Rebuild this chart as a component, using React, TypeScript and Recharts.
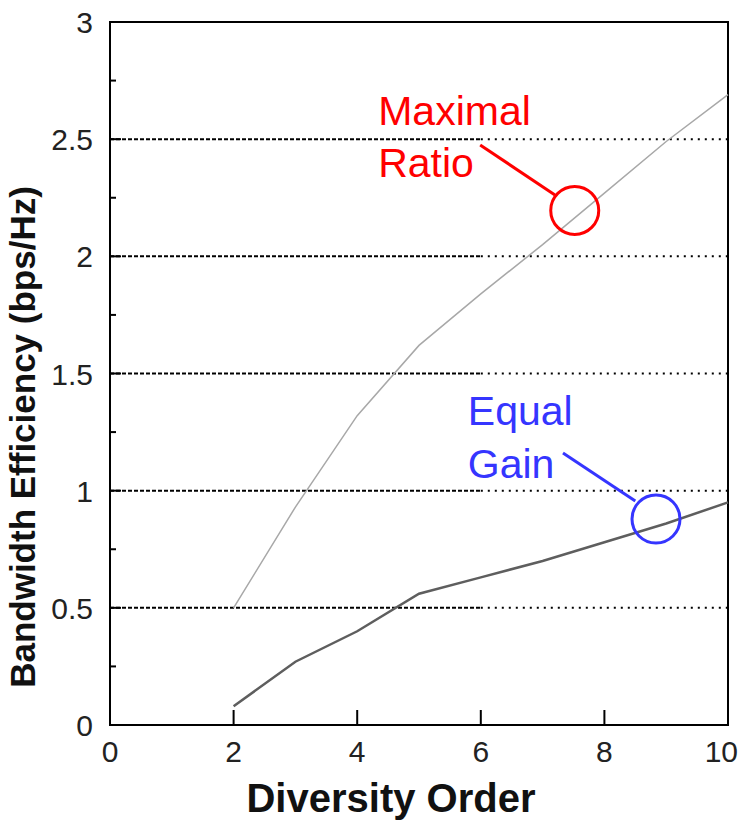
import React from "react";
import {
  LineChart,
  Line,
  XAxis,
  YAxis,
  ReferenceLine,
  ReferenceDot,
  ReferenceArea,
} from "recharts";

// bandwidth efficiency vs. diversity order for two combining schemes
const diversityOrder = [2, 3, 4, 5, 6, 7, 8, 9, 10];
const maximalRatio = [0.5, 0.93, 1.32, 1.62, 1.84, 2.05, 2.27, 2.49, 2.69];
const equalGain = [0.08, 0.27, 0.4, 0.56, 0.63, 0.7, 0.78, 0.86, 0.95];

const xTicks = [0, 2, 4, 6, 8, 10];
const yTicks = [0, 0.25, 0.5, 0.75, 1, 1.25, 1.5, 1.75, 2, 2.25, 2.5, 2.75, 3];
const gridLevels = [0.5, 1, 1.5, 2, 2.5];

const rows = diversityOrder.map((order, i) => ({
  order,
  maximal: maximalRatio[i],
  equal: equalGain[i],
}));

const FONT = "'Liberation Sans', Arial, Helvetica, sans-serif";
const RED = "#ff0000";
const BLUE = "#3535ff";

function XTick({ x, y, payload }: any) {
  const v = payload.value;
  const inner = v !== 0 && v !== 10;
  // last label is pulled in so it stays on the page
  const last = v === 10;
  return (
    <g>
      {inner && (
        <line x1={x} x2={x} y1={y} y2={y - 15} stroke="#000" strokeWidth={2} />
      )}
      <text
        x={last ? x + 10 : x}
        y={y + 37}
        textAnchor={last ? "end" : "middle"}
        fontFamily={FONT}
        fontSize={30}
        fill="#222"
      >
        {v}
      </text>
    </g>
  );
}

function YTick({ x, y, payload }: any) {
  const v = payload.value;
  const major = Math.abs(v * 2 - Math.round(v * 2)) < 1e-6;
  const edge = v === 0 || v === 3;
  return (
    <g>
      {!edge && (
        <line
          x1={x}
          x2={x + (major ? 11 : 6)}
          y1={y}
          y2={y}
          stroke="#000"
          strokeWidth={2}
        />
      )}
      {major && (
        <text
          x={x - 17}
          y={y + 11}
          textAnchor="end"
          fontFamily={FONT}
          fontSize={30}
          fill="#222"
        >
          {v}
        </text>
      )}
    </g>
  );
}

function textShape(label: string, color: string) {
  return (p: any) => (
    <text x={p.cx} y={p.cy} fontFamily={FONT} fontSize={41} fill={color}>
      {label}
    </text>
  );
}

export default function App() {
  return (
    <div
      style={{
        position: "absolute",
        left: 0,
        top: 0,
        width: 740,
        height: 820,
        background: "#fff",
      }}
    >
      <LineChart
        width={740}
        height={820}
        data={rows}
        margin={{ top: 22, right: 12, bottom: 0, left: 0 }}
      >
        <XAxis
          type="number"
          dataKey="order"
          domain={[0, 10]}
          ticks={xTicks}
          height={95}
          axisLine={false}
          tickLine={false}
          tickSize={0}
          tickMargin={0}
          tick={<XTick />}
          interval={0}
          label={{
            content: () => (
              <text
                x={391}
                y={812}
                textAnchor="middle"
                fontFamily={FONT}
                fontWeight="bold"
                fontSize={40}
                fill="#111"
              >
                Diversity Order
              </text>
            ),
          }}
        />
        <YAxis
          type="number"
          domain={[0, 3]}
          ticks={yTicks}
          width={110}
          axisLine={false}
          tickLine={false}
          tickSize={0}
          tickMargin={0}
          tick={<YTick />}
          interval={0}
          label={{
            content: () => (
              <text
                x={0}
                y={0}
                transform="translate(35,437) rotate(-90)"
                textAnchor="middle"
                fontFamily={FONT}
                fontWeight="bold"
                fontSize={35}
                fill="#111"
              >
                Bandwidth Efficiency (bps/Hz)
              </text>
            ),
          }}
        />

        {gridLevels.map((lvl) => (
          <ReferenceLine
            key={`a${lvl}`}
            segment={[
              { x: 0, y: lvl },
              { x: 6, y: lvl },
            ]}
            stroke="#000"
            strokeWidth={2}
            strokeDasharray="4 2"
          />
        ))}
        {gridLevels.map((lvl) => (
          <ReferenceLine
            key={`b${lvl}`}
            segment={[
              { x: 6, y: lvl },
              { x: 10, y: lvl },
            ]}
            stroke="#000"
            strokeWidth={2}
            strokeDasharray="2 5"
          />
        ))}

        <Line
          type="linear"
          dataKey="maximal"
          stroke="#a8a8a8"
          strokeWidth={1.5}
          dot={false}
          isAnimationActive={false}
        />
        <Line
          type="linear"
          dataKey="equal"
          stroke="#5e5e5e"
          strokeWidth={2.5}
          dot={false}
          isAnimationActive={false}
        />

        <ReferenceArea
          x1={0}
          x2={10}
          y1={0}
          y2={3}
          fill="none"
          stroke="#000"
          strokeWidth={2}
          ifOverflow="visible"
        />

        {/* callouts */}
        <ReferenceLine
          segment={[
            { x: 5.99, y: 2.475 },
            { x: 7.2, y: 2.262 },
          ]}
          stroke={RED}
          strokeWidth={3}
        />
        <ReferenceDot x={7.52} y={2.196} r={24} fill="none" stroke={RED} strokeWidth={3} />
        <ReferenceDot x={4.34} y={2.56} r={0} shape={textShape("Maximal", RED)} />
        <ReferenceDot x={4.34} y={2.339} r={0} shape={textShape("Ratio", RED)} />

        <ReferenceLine
          segment={[
            { x: 7.33, y: 1.161 },
            { x: 8.5, y: 0.956 },
          ]}
          stroke={BLUE}
          strokeWidth={3}
        />
        <ReferenceDot x={8.835} y={0.879} r={24} fill="none" stroke={BLUE} strokeWidth={3} />
        <ReferenceDot x={5.79} y={1.28} r={0} shape={textShape("Equal", BLUE)} />
        <ReferenceDot x={5.79} y={1.054} r={0} shape={textShape("Gain", BLUE)} />
      </LineChart>
    </div>
  );
}
